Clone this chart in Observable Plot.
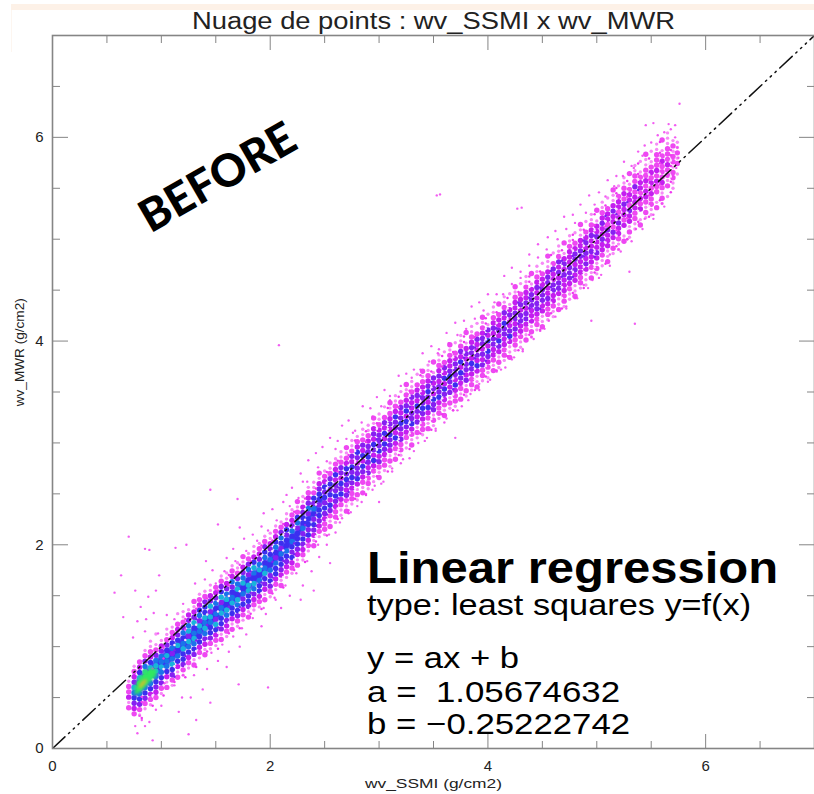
<!DOCTYPE html>
<html><head><meta charset="utf-8">
<script src="https://cdn.jsdelivr.net/npm/d3@7"></script>
<script src="https://cdn.jsdelivr.net/npm/@observablehq/plot@0.6"></script>
<style>
html,body{margin:0;background:#fff}
#wrap{position:relative;width:814px;height:794px;overflow:hidden}
#strip{position:absolute;left:11px;top:4px;width:803px;height:6px;background:#fdf1e7}
#edge{position:absolute;left:11px;top:10px;width:1px;height:42px;background:#fdf6f0}
svg{position:absolute;left:0;top:0;background:transparent!important}
svg g[aria-label="area"]{filter:blur(1.4px)}
svg g[aria-label="dot"]{filter:blur(0.6px)}
</style></head><body><div id="wrap"><div id="strip"></div><div id="edge"></div></div>
<script>
const titleText = "Nuage de points : wv_SSMI x wv_MWR";
const xLabel = "wv_SSMI (g/cm2)";
const yLabel = "wv_MWR (g/cm2)";
const majorTicks = [0,2,4,6];
const minorTicks = [0.5,1,1.5,2.5,3,3.5,4.5,5,5.5,6.5];
const identityLine = [0,7];

const coreX  = [0.74,0.8,0.9,1.0,1.2,1.4,1.6,1.8,2.0,2.25,2.5];
const coreLo = [0.49,0.52,0.63,0.74,0.94,1.13,1.33,1.53,1.74,2.04,2.42];
const coreHi = [0.62,0.71,0.82,0.92,1.10,1.29,1.49,1.69,1.88,2.16,2.50];
const greenX  = [0.76,0.8,0.85,0.9,0.96];
const greenLo = [0.52,0.54,0.59,0.65,0.71];
const greenHi = [0.60,0.69,0.74,0.78,0.78];
const hotX  = [0.8,0.83,0.87];
const hotLo = [0.58,0.60,0.65];
const hotHi = [0.62,0.66,0.68];

// Density: [column x, lowest y, one digit per step of y]
const densityColumns = [
[0.70,0.40,"213221"],[0.75,0.34,"2345674321"],[0.80,0.33,"12456787532"],[0.85,0.39,"124567886421"],[0.90,0.43,"1235678753211"],
[0.95,0.50,"2345677642101"],[1.00,0.54,"12456766431"],[1.05,0.60,"213566754211"],[1.10,0.62,"124576465321"],[1.15,0.70,"2135657543201"],
[1.20,0.72,"1245576564211"],[1.25,0.79,"123567476431"],[1.30,0.82,"2145676574312"],[1.35,0.89,"1235567465321"],[1.40,0.92,"2134676755421"],
[1.45,0.98,"1245567474311"],[1.50,1.01,"1235746564320"],[1.55,1.07,"2145576475421"],[1.60,1.10,"1234675764311"],[1.65,1.17,"2135576546321"],
[1.70,1.20,"1245675764211"],[1.75,1.26,"1235465764312"],[1.80,1.29,"2145577546421"],[1.85,1.36,"1234675675311"],[1.90,1.39,"1235565764321"],
[1.95,1.46,"2134576565421"],[2.00,1.49,"1245465654311"],[2.05,1.56,"1235564565321"],[2.10,1.60,"2134556456421"],[2.15,1.68,"1234565545311"],
[2.20,1.72,"1235456564321"],[2.25,1.80,"2134555465212"],[2.30,1.85,"1234546554311"],[2.35,1.94,"1235455464321"],[2.40,1.99,"2134545645211"],
[2.45,2.08,"1234554554312"],[2.50,2.10,"1223454545321"],[2.55,2.18,"2124535454211"],[2.60,2.22,"1223454435321"],[2.65,2.29,"1123545344211"],
[2.70,2.33,"2124345453212"],[2.75,2.40,"1223454534211"],[2.80,2.44,"1213544345321"],[2.85,2.51,"2123453534211"],[2.90,2.55,"1224345443211"],
[2.95,2.62,"1123534534312"],[3.00,2.66,"2124354443211"],[3.05,2.73,"1223453534201"],[3.10,2.77,"1213445343212"],[3.15,2.84,"2123534453211"],
[3.20,2.88,"1224345434201"],[3.25,2.95,"1123453543212"],[3.30,2.98,"2123544334211"],[3.35,3.05,"1214345343201"],[3.40,3.08,"1223454433212"],
[3.45,3.14,"2123534543211"],[3.50,3.17,"1214453434102"],[3.55,3.24,"1223544343211"],[3.60,3.27,"2123453534201"],[3.65,3.34,"1214345433212"],
[3.70,3.36,"1223534443201"],[3.75,3.43,"2123453534211"],[3.80,3.46,"1214344343102"],[3.85,3.52,"1223453443211"],[3.90,3.55,"2113534334201"],
[3.95,3.61,"1224343443212"],[4.00,3.64,"1123453534101"],[4.05,3.71,"2123344343211"],[4.10,3.74,"1213453433202"],[4.15,3.81,"1223344534211"],
[4.20,3.84,"2113543343101"],[4.25,3.91,"1223434433212"],[4.30,3.94,"1123344343201"],[4.35,4.01,"2123443433211"],[4.40,4.04,"1213334443102"],
[4.45,4.11,"1223443343211"],[4.50,4.14,"2113344433201"],[4.55,4.21,"1223433443112"],[4.60,4.24,"1123344334201"],[4.65,4.31,"2113443434211"],
[4.70,4.34,"1223334343102"],[4.75,4.41,"1123444333211"],[4.80,4.44,"2113343443201"],[4.85,4.52,"1223334433112"],[4.90,4.55,"1113434343201"],
[4.95,4.62,"2123343343211"],[5.00,4.66,"1213433433102"],[5.05,4.74,"1123343343211"],[5.10,4.78,"2113334233201"],[5.15,4.86,"1213423343112"],
[5.20,4.90,"1123343233201"],[5.25,4.98,"2103233423211"],[5.30,5.02,"1213342332102"],[5.35,5.10,"1122333242211"],[5.40,5.14,"2103232332101"],
[5.45,5.21,"1212332322112"],[5.50,5.24,"1122323232101"],[5.55,5.31,"2102232322211"],[5.60,5.35,"1212322232102"],[5.65,5.42,"1021223222111"],
[5.70,5.50,"1122122121"],[5.74,5.64,"1021211"]
];
const densityStep = 0.052;
const densityCells = densityColumns.flatMap(([x,lo,digits]) =>
  Array.from(digits,(c,i)=>({x,y:lo+i*densityStep,v:+c})).filter(d=>d.v>0));
const densityLevels = [1,2,3,4,5,6,7,8];
const densityColors = ["#f78af7","#ee48f2","#c41ef0","#8620f2","#3c2ef0","#1a74ea","#18b4dc","#2cd888"];

// Fine specks between the columns: 1 magenta, 2 violet, 9 pale hole
const speckColumns = [
[0.82,0.30,"1001100"],[0.92,0.42,"10900901"],[1.02,0.52,"1090090101"],[1.12,0.60,"01209002901"],[1.22,0.70,"109020090101"],
[1.32,0.80,"100902009201"],[1.42,0.90,"010900209011"],[1.52,0.98,"100920090901"],[1.62,1.08,"0109002090101"],[1.72,1.18,"1009200900901"],
[1.82,1.27,"0190020902010"],[1.92,1.37,"1009020090901"],[2.02,1.47,"0109200209010"],[2.12,1.58,"1090020900901"],[2.22,1.70,"0109202009101"],
[2.32,1.83,"1009020290901"],[2.42,1.98,"0190202090010"],[2.52,2.09,"1009202009901"],[2.62,2.20,"0109020290101"],[2.72,2.31,"1090202009010"],
[2.78,2.40,"0109020290901"],[2.88,2.49,"1009902020101"],[2.98,2.62,"0190209020910"],[3.08,2.72,"1009020299001"],[3.18,2.83,"0190902020101"],
[3.28,2.94,"1009092020910"],[3.38,3.04,"0109020929001"],[3.48,3.13,"1090209092010"],[3.58,3.23,"0190902029101"],[3.68,3.32,"1009209090910"],
[3.78,3.42,"0109020929011"],[3.88,3.52,"1090902920100"],[3.98,3.60,"0109209092911"],[4.08,3.71,"1009092029010"],[4.18,3.80,"0190920290901"],
[4.28,3.91,"1009029092010"],[4.38,4.01,"0109902920911"],[4.48,4.11,"1090290929010"],[4.58,4.22,"0109092902901"],[4.68,4.32,"1090902092910"],
[4.78,4.42,"0190290929011"],[4.88,4.52,"1009902092910"],[4.98,4.62,"0190290929101"],[5.08,4.76,"1090902192010"],[5.18,4.88,"0109109290911"],
[5.28,5.00,"1090190219010"],[5.38,5.12,"0109019209101"],[5.48,5.22,"1090109190910"],[5.58,5.33,"0190109019101"],[5.68,5.46,"101901911"]
];
const speckCells = speckColumns.flatMap(([x,lo,digits]) =>
  Array.from(digits,(c,i)=>({x,y:lo+i*densityStep,v:+c})).filter(d=>d.v>0));
const speckFill = new Map([[1,"#f038f0"],[2,"#7a22f2"],[9,"#fde4fd"]]);

const scatter = [
[3.53,5.43],[3.56,5.44],[4.27,5.30],[4.31,5.31],[2.08,3.96],[5.35,4.17],[5.76,6.33],[5.52,6.14],[5.66,6.13],[5.45,6.12],[5.72,6.12],
[0.70,2.08],[0.85,1.96],[0.89,1.95],[1.13,1.97],[1.41,1.84],[1.23,2.0],[1.52,2.2],[1.7,2.45],[1.45,2.54],
[0.63,1.70],[0.57,1.53],[0.65,1.29],[0.88,1.49],[0.95,1.55],[0.98,1.70],[0.81,1.39],[0.86,1.27],[0.93,1.33],[0.76,1.55],[0.78,1.25],[0.74,1.09],[0.85,1.15],
[0.97,1.13],[1.05,1.31],[1.12,1.27],[1.2,1.42],[1.34,1.39],[1.31,1.62],[1.4,1.66],[1.47,1.75],[1.6,1.87],[1.5,1.62],[1.66,1.96],[1.76,2.06],[1.84,2.1],[1.72,2.17],[1.94,2.31],[2.02,2.35],[1.92,2.18],[2.12,2.42],[2.2,2.56],[2.28,2.7],[2.15,2.49],
[2.35,2.83],[2.42,2.9],[2.48,2.96],[2.3,2.62],[2.55,3.05],[2.62,3.02],[2.66,3.17],[2.72,3.22],[2.78,3.12],[2.85,3.36],[2.92,3.34],[2.98,3.45],[3.05,3.52],[3.1,3.42],[3.18,3.66],[3.25,3.68],[3.32,3.72],[3.4,3.88],[3.48,3.95],[3.55,3.92],[3.62,4.08],[3.7,4.18],[3.78,4.2],[3.85,4.34],[3.92,4.38],[4.0,4.46],[4.08,4.46],[4.15,4.64],[4.22,4.72],[4.3,4.68],[4.38,4.85],[4.46,4.95],[4.55,5.02],[4.62,5.08],[4.7,5.22],[4.78,5.24],[4.85,5.34],[4.93,5.43],[5.02,5.46],[5.1,5.58],[5.18,5.62],[5.25,5.76],[5.32,5.72],[5.38,5.86],[5.44,5.92],[5.5,5.95],[5.56,6.02],[5.62,6.05],[5.68,6.08],[5.72,6.0],[5.74,5.9],[5.75,5.8],[5.73,5.7],[5.7,5.62],[5.66,5.52],
[1.0,0.42],[0.95,0.38],[0.82,0.28],[0.85,0.22],[0.78,0.15],[0.8,0.32],[0.89,0.26],[0.92,0.08],[0.76,0.22],[1.16,0.36],[1.25,0.14],[1.32,0.28],[1.19,0.5],[1.27,0.5],[1.38,0.58],[1.45,0.45],[1.03,0.64],[1.12,0.62],[1.3,0.72],[1.42,0.78],[1.2,0.72],
[1.52,0.86],[1.62,0.95],[1.6,0.8],[1.72,1.0],[1.78,1.12],[1.71,0.63],[1.98,0.6],[1.92,1.2],[1.96,1.32],[2.1,1.38],[2.18,1.5],[2.05,1.46],[2.3,1.6],[2.38,1.74],[2.28,1.46],[2.45,1.88],[2.52,2.0],[2.6,2.12],[2.66,2.26],[2.55,1.82],[2.72,2.34],[2.8,2.38],[2.88,2.5],[2.96,2.58],[3.04,2.62],[3.12,2.75],[3.2,2.8],[3.28,2.85],[3.36,3.0],[3.44,3.05],[3.52,3.12],[3.6,3.2],[3.68,3.32],[3.76,3.36],[3.84,3.48],[3.92,3.58],[4.0,3.6],[4.08,3.7],[4.16,3.74],[4.24,3.84],[4.32,3.92],[4.4,4.04],[4.48,4.1],[4.56,4.2],[4.64,4.3],[4.72,4.34],[4.8,4.42],[4.88,4.55],[4.96,4.6],[5.04,4.65],[5.12,4.85],[5.2,4.9],[5.28,5.0],[5.36,5.1],[5.44,5.2],[5.52,5.24],[5.6,5.35],[5.3,4.68],[4.95,4.2],[3.7,3.05],[3.0,2.42],[2.4,1.55],
[1.58,1.74],[1.68,1.84],[1.78,1.94],[1.88,2.04],[1.98,2.14],[2.06,2.24],[2.18,2.38],[2.26,2.46],[2.34,2.62],[2.44,2.76],[2.52,2.82],[2.6,2.94],[2.7,3.04],[2.76,3.1],[2.84,3.2],[2.94,3.26],[3.02,3.36],[3.1,3.46],[3.2,3.56],[3.3,3.64],[3.38,3.72],[3.46,3.8],[3.54,3.88],[3.64,3.98],[3.72,4.06],[3.8,4.12],[3.88,4.22],[3.96,4.3],[4.06,4.38],[4.14,4.46],[4.22,4.56],[4.3,4.62],[4.38,4.74],[4.46,4.82],[4.54,4.9],[4.64,5.0],[4.72,5.1],[4.8,5.16],[4.9,5.26],[4.98,5.34],[5.08,5.42],[5.16,5.52],[5.24,5.62],[5.34,5.7],[5.42,5.82],
[1.46,0.94],[1.56,1.02],[1.66,1.1],[1.74,1.18],[1.84,1.28],[1.94,1.38],[2.04,1.48],[2.14,1.6],[2.24,1.72],[2.34,1.84],[2.44,2.0],[2.54,2.1],[2.64,2.22],[2.74,2.32],[2.84,2.42],[2.94,2.54],[3.02,2.6],[3.12,2.72],[3.22,2.84],[3.32,2.92],[3.42,3.02],[3.52,3.14],[3.62,3.24],[3.72,3.32],[3.82,3.42],[3.92,3.52],[4.02,3.62],[4.12,3.72],[4.22,3.82],[4.32,3.9],[4.42,4.02],[4.52,4.12],[4.62,4.24],[4.72,4.32],[4.82,4.42],[4.92,4.52],[5.02,4.62],[5.12,4.74],[5.22,4.88],[5.32,4.98],[5.42,5.1],[5.52,5.2],[5.62,5.32]
];

const notes = ["type: least squares y=f(x)","y = ax + b","a =  1.05674632","b = −0.25222742"];
const noteX = [2.89,2.89,2.89,2.89];
const noteY = [1.31,0.79,0.46,0.14];
const noteSize = [30,30,30,30];
const heading = "Linear regression";
// Rendered text widths, in pixels
const textWidths = new Map([[titleText,483],[heading,411],[notes[0],384],[notes[1],152],[notes[2],253],[notes[3],263],[xLabel,137],[yLabel,108]]);

const band = (xs,lo,hi,fill) => Plot.areaY(xs.map((x,i)=>({x,lo:lo[i],hi:hi[i]})),{x:"x",y1:"lo",y2:"hi",fill:fill,curve:"linear"});
const axisCol = "#858585";

const chart = Plot.plot({
  width:814,height:794,marginLeft:52,marginRight:0,marginTop:35,marginBottom:46,
  style:{fontFamily:"'Liberation Sans',Arial,sans-serif",background:"transparent"},
  x:{domain:[0,7],label:null},
  y:{domain:[0,7],label:null},
  color:{type:"ordinal",domain:densityLevels,range:densityColors},
  marks:[
    band(coreX,coreLo,coreHi,"#3a34f2"),
    Plot.dot(densityCells.filter(d=>d.v===1),{x:"x",y:"y",r:1.7,fill:"v",stroke:"none"}),
    Plot.dot(densityCells.filter(d=>d.v>1),{x:"x",y:"y",r:2.7,fill:"v",stroke:"none",sort:"v"}),
    Plot.dot(speckCells,{x:"x",y:"y",r:1.25,fill:d=>speckFill.get(d.v),stroke:"none"}),
    Plot.dot(scatter,{x:d=>d[0],y:d=>d[1],r:1.2,fill:"#f040f0",fillOpacity:0.85,stroke:"none"}),
    band(greenX,greenLo,greenHi,"#30e860"),
    band(hotX,hotLo,hotHi,"#c8c030"),
    Plot.line(identityLine.map(v=>({v})),{x:"v",y:"v",stroke:"#111",strokeWidth:1.5,strokeDasharray:"17 5 1.5 5 1.5 5 1.5 5",clip:true}),
    Plot.frame({stroke:axisCol,strokeWidth:1.6}),
    Plot.axisX(majorTicks,{anchor:"bottom",tickSize:-14,text:null,stroke:axisCol,label:null}),
    Plot.axisX(minorTicks,{anchor:"bottom",tickSize:-7,text:null,stroke:axisCol,label:null}),
    Plot.axisX(majorTicks,{anchor:"top",tickSize:-14,text:null,stroke:axisCol,label:null}),
    Plot.axisX(minorTicks,{anchor:"top",tickSize:-7,text:null,stroke:axisCol,label:null}),
    Plot.axisY(majorTicks,{anchor:"left",tickSize:-16,text:null,stroke:axisCol,label:null}),
    Plot.axisY(minorTicks,{anchor:"left",tickSize:-8,text:null,stroke:axisCol,label:null}),
    Plot.axisY(majorTicks,{anchor:"right",tickSize:-16,text:null,stroke:axisCol,label:null}),
    Plot.axisY(minorTicks,{anchor:"right",tickSize:-8,text:null,stroke:axisCol,label:null}),
    Plot.text(majorTicks,{x:d=>d,frameAnchor:"bottom",dy:22,text:d=>String(d),fontSize:15,fill:"#222"}),
    Plot.text(majorTicks,{y:d=>d,frameAnchor:"left",dx:-9,textAnchor:"end",text:d=>String(d),fontSize:15,fill:"#222"}),
    Plot.text([xLabel],{x:3.5,frameAnchor:"bottom",dy:39,text:d=>d,fontSize:13.5,fill:"#222"}),
    Plot.text([yLabel],{y:3.36,frameAnchor:"left",dx:-33,rotate:-90,text:d=>d,fontSize:13,fill:"#222"}),
    Plot.text([titleText],{frameAnchor:"top",dy:-23,text:d=>d,fontSize:23,fill:"#222"}),
    Plot.text([heading],{x:2.89,y:1.62,text:d=>d,textAnchor:"start",lineAnchor:"bottom",fontSize:44,fontWeight:"bold",fill:"#000"}),
    Plot.text(notes,{x:(d,i)=>noteX[i],y:(d,i)=>noteY[i],text:d=>d,textAnchor:"start",lineAnchor:"bottom",fontSize:(d,i)=>noteSize[i],fill:"#000"}),
    Plot.text(["BEFORE"],{x:1.52,y:5.6,text:d=>d,rotate:-30,fontSize:45,fontWeight:900,fontFamily:"Lato",fill:"#000"})
  ]
});
d3.select(chart).selectAll("text").each(function(){
  const w = textWidths.get(this.textContent);
  if (w) { this.setAttribute("textLength",w); this.setAttribute("lengthAdjust","spacingAndGlyphs"); }
});
document.getElementById("wrap").appendChild(chart);
</script></body></html>
